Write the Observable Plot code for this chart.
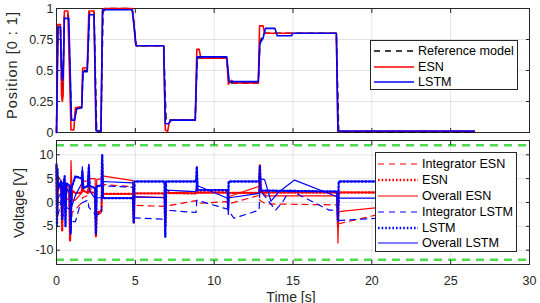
<!DOCTYPE html>
<html><head><meta charset="utf-8">
<script src="https://cdn.jsdelivr.net/npm/d3@7"></script>
<script src="https://cdn.jsdelivr.net/npm/@observablehq/plot@0.6"></script>
<style>
body{margin:0;background:#fff;}
#wrap{position:relative;width:540px;height:303px;font-family:"Liberation Sans",Arial,sans-serif;color:#262626;overflow:hidden;}
#wrap svg{display:block;}
.legend{position:absolute;background:#fff;border:1px solid #262626;box-sizing:border-box;font-size:12.6px;color:#000;}
.legend .row{position:absolute;left:0;height:16px;margin-top:-8px;display:flex;align-items:center;white-space:nowrap;}
.legend .row svg{display:block;}
.atitle{position:absolute;white-space:nowrap;font-size:14.5px;color:#262626;line-height:1;transform:translate(-50%,-50%);}
.atitle.rot{transform:translate(-50%,-50%) rotate(-90deg);}
</style></head><body><div id="wrap"></div>
<script>
// ---------- data ----------
const xTicks = [0, 5, 10, 15, 20, 25, 30];
const posTicks = [0, 0.25, 0.5, 0.75, 1];
const posTickLabels = ["0", "0.25", "0.5", "0.75", "1"];
const voltTicks = [-10, -5, 0, 5, 10];
const voltLimits = [-12, 12];

// Position [0:1]  (time s, value)
const posRef = [[0,0],[0.08,0.85],[0.25,0.85],[0.33,0.4],[0.4,0.33],[0.5,0.95],[0.75,0.95],[0.95,0.1],[1.12,0.1],[1.25,0.2],[1.6,0.2],[1.68,0.5],[1.95,0.5],[2.1,0.97],[2.38,0.97],[2.55,0.005],[2.82,0.005],[2.95,0.97],[3.1,1],[4.8,1],[4.9,0.89],[5.05,0.7],[6.8,0.7],[6.95,0.1],[8.8,0.1],[8.92,0.6],[10.8,0.6],[10.92,0.42],[11.1,0.4],[12.8,0.4],[12.9,0.72],[13.05,0.78],[13.2,0.8],[17.75,0.8],[17.9,0.005],[26.5,0.005]];
const posESN = [[0,0],[0.08,0.87],[0.25,0.87],[0.32,0.3],[0.37,0.25],[0.42,0.3],[0.5,0.98],[0.72,0.98],[0.92,0.02],[1.1,0.02],[1.2,0.2],[1.6,0.21],[1.66,0.52],[1.95,0.52],[2.05,0.98],[2.38,0.98],[2.5,0.02],[2.82,0.01],[2.92,0.98],[3.0,1],[4.8,1],[4.9,0.9],[5.0,0.72],[5.1,0.7],[6.8,0.7],[6.9,0.02],[7.05,0.01],[7.15,0.08],[7.3,0.1],[8.8,0.1],[8.9,0.67],[9.05,0.67],[9.15,0.6],[10.8,0.6],[10.9,0.39],[11.1,0.42],[11.3,0.4],[12.8,0.4],[12.88,0.86],[13.1,0.86],[13.2,0.8],[17.75,0.8],[17.85,0.01],[26.5,0.01]];
const posLSTM = [[0,0],[0.1,0.85],[0.25,0.85],[0.3,0.6],[0.36,0.42],[0.42,0.45],[0.5,0.92],[0.78,0.92],[0.95,0.1],[1.15,0.1],[1.28,0.19],[1.6,0.2],[1.68,0.49],[1.95,0.49],[2.08,0.95],[2.38,0.95],[2.52,0.012],[2.82,0.012],[2.92,0.99],[4.8,0.99],[4.9,0.88],[5.05,0.7],[6.8,0.7],[6.9,0.07],[7.1,0.07],[7.25,0.1],[8.8,0.1],[8.92,0.61],[10.8,0.61],[10.95,0.41],[12.8,0.41],[12.9,0.72],[13.1,0.76],[13.25,0.84],[13.85,0.84],[14.0,0.78],[14.9,0.78],[15.0,0.8],[17.75,0.8],[17.85,0.012],[26.5,0.012]];

// Voltage [V]
const intESN = [[0,0],[0.1,1.5],[0.35,2],[0.4,-1],[0.6,0.5],[0.85,1],[0.9,-5],[1.0,-2],[1.2,-1.5],[1.6,0],[1.65,1],[2.0,1.5],[2.05,3],[2.45,2.5],[2.5,-2.5],[2.85,-2.2],[2.9,3.8],[4.85,3.3],[4.9,-0.6],[6.85,-0.8],[6.9,-0.8],[8.85,0.4],[8.9,-0.2],[10.85,0.2],[10.9,-0.3],[12.85,1.5],[12.9,0.4],[13.3,-0.3],[17.8,-0.5],[17.85,-4.5],[20.3,-2.6],[26.5,-1]];
const ctlESN = [[0,7.5],[0.04,-3],[0.1,4],[0.3,2.5],[0.36,-6],[0.42,3],[0.55,3.5],[0.8,2],[0.86,-8],[0.92,-1],[1.0,2.5],[1.2,2],[1.6,2],[1.64,5],[1.7,2.5],[2.0,2],[2.05,6],[2.1,2.2],[2.45,2],[2.5,-7.2],[2.55,-2],[2.85,-1.9],[2.9,8],[2.95,1.8],[4.85,1.8],[4.9,-4.2],[4.95,1.9],[6.85,1.9],[6.9,-5],[6.95,2],[8.85,1.9],[8.9,3],[8.95,2.1],[10.85,2.1],[10.9,1.5],[10.95,2],[12.85,2],[12.9,7.8],[12.95,2.1],[17.8,2.1],[17.85,-5],[17.9,2.1],[26.5,2.1]];
const totESN = [[0,7.5],[0.04,-2],[0.1,5.5],[0.3,4.5],[0.36,-4],[0.42,2],[0.55,4],[0.8,3],[0.86,-7],[0.92,8.8],[1.0,0.5],[1.2,0.5],[1.6,2],[1.64,6],[1.7,4.5],[2.0,4.5],[2.05,8],[2.1,5],[2.45,5],[2.5,-6],[2.55,4.8],[2.85,5],[2.9,5.6],[4.85,4.6],[4.9,-4],[4.95,1.2],[6.85,1.1],[6.9,-5],[6.95,2.8],[7.2,2.0],[8.85,2.3],[8.9,3],[8.95,2.0],[10.85,2.1],[10.9,1.2],[12.85,3.4],[12.9,6],[13.0,2.5],[13.3,1.4],[17.8,1.4],[17.85,-8.5],[17.9,-1.9],[26.5,1]];
const intLSTM = [[0,0],[0.1,-2.5],[0.35,1],[0.4,-3],[0.6,-1],[0.9,-1.5],[0.95,-4],[1.2,-4],[1.5,-0.5],[1.65,0],[2.0,0.5],[2.05,-1],[2.45,-2.5],[2.5,-5],[2.55,-2.5],[2.85,-2.5],[2.9,3.5],[4.85,3.2],[4.9,-3.2],[6.85,-3.5],[6.9,-1.6],[8.85,-2.1],[8.9,0.5],[10.85,-1.4],[11.25,-3.3],[12.85,-1.6],[12.9,2.6],[13.4,0.5],[13.9,-1.6],[14.3,-0.1],[14.8,2.6],[17.3,-1.6],[17.8,-1.6],[17.85,-3.8],[20.3,-3.3],[26.5,-2]];
const ctlLSTM = [[0,8],[0.03,-5],[0.06,7],[0.1,3],[0.3,4.5],[0.36,-3.5],[0.42,3.5],[0.52,5.5],[0.57,-5],[0.62,4],[0.85,3.5],[0.9,-6.5],[0.95,3],[1.2,5.5],[1.6,5],[1.64,6.5],[1.7,3],[2.0,3.5],[2.05,7.5],[2.1,3.5],[2.45,3],[2.5,-6.5],[2.55,3.5],[2.85,3.5],[2.9,10],[2.95,0.9],[4.85,0.9],[4.9,-4.3],[4.95,4.4],[6.85,4.4],[6.9,-7.2],[6.95,4.4],[8.85,4.4],[8.9,7.5],[8.95,2.6],[10.85,2.6],[10.88,-1],[10.92,4.4],[12.85,4.4],[12.9,7.5],[12.95,2.5],[17.8,2.3],[17.85,-3.7],[17.9,4.4],[26.5,4.4]];
const totLSTM = [[0,8],[0.03,-3],[0.1,1],[0.3,2],[0.36,-3],[0.42,1],[0.52,4],[0.57,-4],[0.62,3],[0.85,2],[0.9,-6],[0.95,-1],[1.2,1.5],[1.6,4],[1.64,7.5],[1.7,3],[2.0,3.5],[2.05,8],[2.1,2.5],[2.45,0.8],[2.5,-6],[2.55,1],[2.85,1],[2.9,4.4],[4.85,4.1],[4.9,-3.5],[4.95,1.2],[6.85,1.0],[6.9,-6.5],[6.95,2.6],[8.85,2.3],[8.9,6],[8.95,3.5],[10.85,0.9],[10.9,-2.5],[10.95,1],[12.85,1.9],[12.9,5],[13.2,4.8],[13.6,0.3],[14.1,2.2],[15.1,4.7],[17.8,1.2],[17.85,-4],[17.9,0.9],[26.5,0.9]];

// ---------- styles ----------
const FONT = '"Liberation Sans", Arial, Helvetica, sans-serif';
const AX = "#262626";
const RED = "#ff0000", BLUE = "#0000ff", GREEN = "#4ddc4d";
const dash = "6,5", dot = "1.6,2";

const common = {
  width: 540, marginLeft: 56, marginRight: 11,
  style: {fontFamily: FONT, fontSize: "12.5px", color: AX, background: "#fff", overflow: "visible"},
  x: {domain: [0, 30]}
};
function frameMarks(yTicks, yFmt, showX) {
  return [
    Plot.axisX(xTicks, {anchor: "bottom", tickSize: -4, tickFormat: () => "", label: null, stroke: AX}),
    Plot.axisX(xTicks, {anchor: "top", tickSize: -4, tickFormat: () => "", label: null, stroke: AX}),
    Plot.axisY(yTicks, {anchor: "left", tickSize: -4, tickPadding: 7, tickFormat: yFmt, label: null, stroke: AX, fill: AX}),
    Plot.axisY(yTicks, {anchor: "right", tickSize: -4, tickFormat: () => "", label: null, stroke: AX}),
    Plot.frame({stroke: AX, strokeWidth: 1})
  ].concat(showX ? [Plot.axisX(xTicks, {anchor: "bottom", tickSize: 0, tickPadding: 11.5, tickFormat: d => String(d), label: null, fill: AX})] : []);
}

const topPlot = Plot.plot({
  ...common, height: 136, marginTop: 8, marginBottom: 4,
  y: {domain: [0, 1]},
  marks: [
    Plot.gridX(xTicks, {stroke: AX, strokeOpacity: 0.12}),
    Plot.gridY(posTicks, {stroke: AX, strokeOpacity: 0.12}),
    ...frameMarks(posTicks, d => posTickLabels[posTicks.indexOf(d)], false),
    Plot.line(posRef, {stroke: "#000", strokeWidth: 1.5, strokeDasharray: dash}),
    Plot.line(posESN, {stroke: RED, strokeWidth: 1.6}),
    Plot.line(posLSTM, {stroke: BLUE, strokeWidth: 1.6})
  ]
});

const botPlot = Plot.plot({
  ...common, height: 167, marginTop: 4, marginBottom: 39,
  y: {domain: [-13, 13]},
  marks: [
    Plot.gridX(xTicks, {stroke: AX, strokeOpacity: 0.12}),
    Plot.gridY(voltTicks, {stroke: AX, strokeOpacity: 0.12}),
    Plot.line(intESN, {stroke: RED, strokeWidth: 1.2, strokeDasharray: dash}),
    Plot.line(ctlESN, {stroke: RED, strokeWidth: 2.3, strokeDasharray: dot}),
    Plot.line(totESN, {stroke: RED, strokeWidth: 1.2}),
    Plot.line(intLSTM, {stroke: BLUE, strokeWidth: 1.2, strokeDasharray: dash}),
    Plot.line(ctlLSTM, {stroke: BLUE, strokeWidth: 2.3, strokeDasharray: dot}),
    Plot.line(totLSTM, {stroke: BLUE, strokeWidth: 1.2}),
    Plot.ruleY(voltLimits, {stroke: GREEN, strokeWidth: 2.6, strokeDasharray: "8,6"}),
    ...frameMarks(voltTicks, d => String(d), true)
  ]
});

const wrap = document.getElementById("wrap");
wrap.appendChild(topPlot);
wrap.appendChild(botPlot);

// ---------- axis titles ----------
function title(text, cx, cy, rot, extra) {
  const d = document.createElement("div");
  d.className = "atitle" + (rot ? " rot" : "");
  d.textContent = text;
  d.style.left = cx + "px"; d.style.top = cy + "px";
  if (extra) Object.assign(d.style, extra);
  wrap.appendChild(d);
}
title("Position [0 : 1]", 11.5, 65, true, {letterSpacing: "1px"});
title("Voltage [V]", 19, 202.5, true);
title("Time [s]", 291, 296.5, false, {fontSize: "14px"});

// ---------- legends ----------
function legend(box, entries) {
  const div = document.createElement("div");
  div.className = "legend";
  Object.assign(div.style, {left: box.left + "px", top: box.top + "px", width: box.width + "px", height: box.height + "px"});
  entries.forEach((e, i) => {
    const row = document.createElement("div");
    row.className = "row";
    row.style.top = (box.first + i * box.step) + "px";
    row.style.left = box.sx + "px";
    const ns = "http://www.w3.org/2000/svg";
    const s = document.createElementNS(ns, "svg");
    s.setAttribute("width", box.sw + 4); s.setAttribute("height", 10);
    const l = document.createElementNS(ns, "line");
    l.setAttribute("x1", 0); l.setAttribute("x2", box.sw); l.setAttribute("y1", 5); l.setAttribute("y2", 5);
    l.setAttribute("stroke", e.color); l.setAttribute("stroke-width", e.width);
    if (e.dash) l.setAttribute("stroke-dasharray", e.dash);
    s.appendChild(l);
    row.appendChild(s);
    const t = document.createElement("span");
    t.textContent = e.label;
    row.appendChild(t);
    div.appendChild(row);
  });
  wrap.appendChild(div);
}
legend({left: 370, top: 40, width: 148, height: 50, first: 10, step: 15.5, sx: 3, sw: 40},
  [{label: "Reference model", color: "#000", width: 1.5, dash: dash},
   {label: "ESN", color: RED, width: 1.6},
   {label: "LSTM", color: BLUE, width: 1.6}]);
legend({left: 375, top: 152, width: 142, height: 100, first: 11.3, step: 15.8, sx: 2, sw: 40},
  [{label: "Integrator ESN", color: RED, width: 1.2, dash: dash},
   {label: "ESN", color: RED, width: 2.3, dash: dot},
   {label: "Overall ESN", color: RED, width: 1.2},
   {label: "Integrator LSTM", color: BLUE, width: 1.2, dash: dash},
   {label: "LSTM", color: BLUE, width: 2.3, dash: dot},
   {label: "Overall LSTM", color: BLUE, width: 1.2}]);
</script></body></html>
